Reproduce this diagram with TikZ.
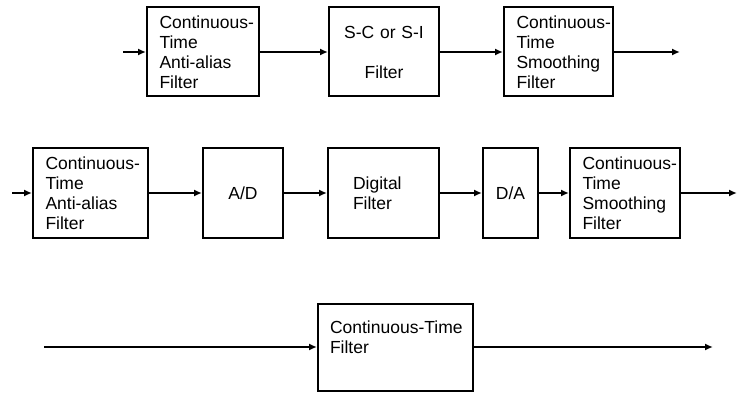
\documentclass[tikz,border=0pt]{standalone}
\usepackage{fontspec}
\setmainfont{Liberation Sans}
\usetikzlibrary{arrows.meta}
\tikzset{
  blk/.style={draw, line width=2pt, minimum height=89pt, inner xsep=12.5pt, inner ysep=0pt,
    align=left, anchor=west, font=\fontsize{17.5}{20}\selectfont},
  sig/.style={line width=1.8pt, -{Latex[length=8pt,width=7pt]}}
}
\begin{document}
\begin{tikzpicture}[x=1pt, y=-1pt]
\useasboundingbox (0,0) rectangle (739,393);
% S-C / S-I path
\coordinate (in1) at (123,52);
\coordinate (out1) at (680,52);
\node[blk, text width=87pt] (aaf1) at (146,52) {\mbox{Continuous-}\\Time\\Anti-alias\\Filter};
\node[blk, text width=85pt, align=center] (scf) at (328,52) {S-C or S-I\\[20pt]Filter};
\node[blk, text width=84pt] (sf1) at (503,52) {\mbox{Continuous-}\\Time\\Smoothing\\Filter};
\draw[sig] (in1) -- (aaf1);
\draw[sig] (aaf1) -- (scf);
\draw[sig] (scf) -- (sf1);
\draw[sig] (sf1) -- (out1);
% digital path
\coordinate (in2) at (12,193);
\coordinate (out2) at (737,193);
\node[blk, text width=90pt] (aaf2) at (32,193) {\mbox{Continuous-}\\Time\\Anti-alias\\Filter};
\node[blk, text width=55pt, align=center] (adc) at (202,193) {A/D};
\node[blk, text width=61pt, inner xsep=25pt] (dig) at (327,193) {Digital\\Filter};
\node[blk, text width=30pt, align=center] (dac) at (482,193) {D/A};
\node[blk, text width=85pt] (sf2) at (569,193) {\mbox{Continuous-}\\Time\\Smoothing\\Filter};
\draw[sig] (in2) -- (aaf2);
\draw[sig] (aaf2) -- (adc);
\draw[sig] (adc) -- (dig);
\draw[sig] (dig) -- (dac);
\draw[sig] (dac) -- (sf2);
\draw[sig] (sf2) -- (out2);
% continuous-time path
\coordinate (in3) at (44,347);
\coordinate (out3) at (713,347);
\node[blk, text width=131pt, inner xsep=12pt, minimum height=87pt] (ctf) at (317,347) {\mbox{Continuous-Time}\\Filter\\\mbox{}};
\draw[sig] (in3) -- (ctf);
\draw[sig] (ctf) -- (out3);
\end{tikzpicture}
\end{document}
